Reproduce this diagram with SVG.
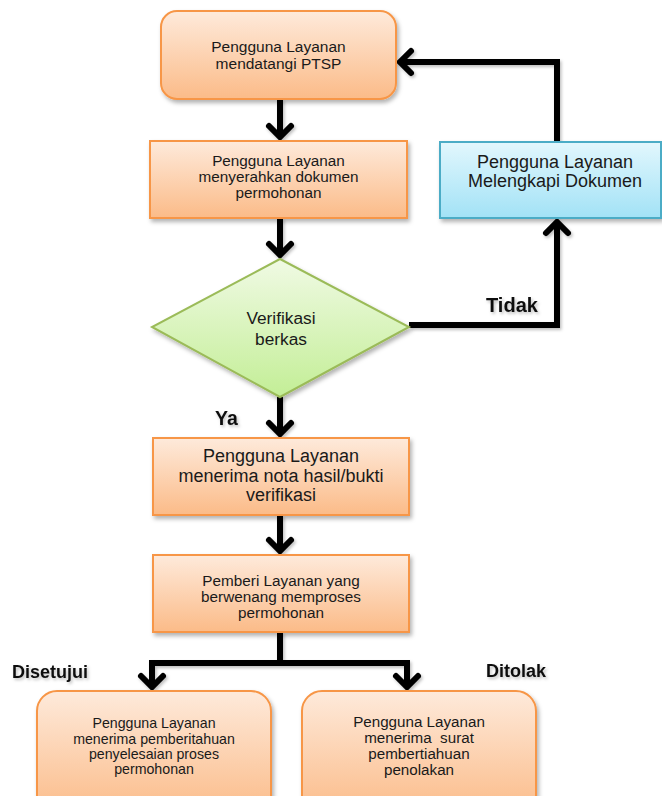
<svg xmlns="http://www.w3.org/2000/svg" width="662" height="796" viewBox="0 0 662 796">
  <defs>
    <linearGradient id="gOrange" x1="0" y1="0" x2="0" y2="1">
      <stop offset="0" stop-color="#feeadb"/>
      <stop offset="1" stop-color="#fbbb88"/>
    </linearGradient>
    <linearGradient id="gBlue" x1="0" y1="0" x2="0" y2="1">
      <stop offset="0" stop-color="#e2f7fd"/>
      <stop offset="1" stop-color="#a2e2f6"/>
    </linearGradient>
    <linearGradient id="gGreen" x1="0" y1="0" x2="0" y2="1">
      <stop offset="0" stop-color="#f0fae4"/>
      <stop offset="1" stop-color="#c3ee96"/>
    </linearGradient>
    <filter id="shadow" x="-10%" y="-10%" width="125%" height="130%">
      <feDropShadow dx="2" dy="3" stdDeviation="2" flood-color="#000" flood-opacity="0.3"/>
    </filter>
    <filter id="lineShadow" x="-20%" y="-20%" width="140%" height="140%">
      <feDropShadow dx="1.5" dy="2" stdDeviation="1.5" flood-color="#000" flood-opacity="0.25"/>
    </filter>
    <marker id="chev" viewBox="-16 -16 32 32" markerWidth="32" markerHeight="32" markerUnits="userSpaceOnUse" refX="0" refY="0" orient="auto" overflow="visible">
      <path d="M-11,-11 L0,0 L-11,11" fill="none" stroke="#000" stroke-width="6" stroke-linecap="round" stroke-linejoin="miter"/>
    </marker>
  </defs>
  <style>
    .orange { fill: url(#gOrange); stroke: #f79646; stroke-width: 2; filter: url(#shadow); }
    .blue { fill: url(#gBlue); stroke: #4bacc6; stroke-width: 2; filter: url(#shadow); }
    .green { fill: url(#gGreen); stroke: #9bbb59; stroke-width: 2; filter: url(#shadow); }
    .t { font-family: "Liberation Sans", Arial, sans-serif; fill: #1a1a1a; text-anchor: middle; }
    .lbl { font-family: "Liberation Sans", Arial, sans-serif; font-weight: bold; fill: #111; }
    .conn { fill: none; stroke: #000; stroke-width: 6; stroke-linejoin: miter; }
  </style>

  <rect width="662" height="796" fill="#ffffff"/>

  <!-- connectors -->
  <g id="connectors" filter="url(#lineShadow)">
    <path class="conn" d="M280,99 V137" marker-end="url(#chev)"/>
    <path class="conn" d="M280,218 V255" marker-end="url(#chev)"/>
    <path class="conn" d="M280,397 V434" marker-end="url(#chev)"/>
    <path class="conn" d="M280,515 V551" marker-end="url(#chev)"/>
    <path class="conn" d="M280,632 V663 H152 V687" marker-end="url(#chev)"/>
    <path class="conn" d="M280,663 H407 V687" marker-end="url(#chev)"/>
    <path class="conn" d="M409,325 H557 V222" marker-end="url(#chev)"/>
    <path class="conn" d="M557,142 V62 H400" marker-end="url(#chev)"/>
    <text class="lbl" x="486" y="312" font-size="20">Tidak</text>
    <text class="lbl" x="215" y="425" font-size="19.5">Ya</text>
    <text class="lbl" x="12" y="678" font-size="18">Disetujui</text>
    <text class="lbl" x="486" y="677" font-size="18">Ditolak</text>
  </g>

  <!-- nodes -->
  <g id="n-datang">
    <rect class="orange" x="161" y="11" width="235" height="88" rx="16"/>
    <text class="t" font-size="15.5"><tspan x="278.5" y="52">Pengguna Layanan</tspan><tspan x="278.5" y="69">mendatangi PTSP</tspan></text>
  </g>

  <g id="n-serah">
    <rect class="orange" x="150" y="141" width="257" height="77"/>
    <text class="t" font-size="15.3"><tspan x="278.5" y="166">Pengguna Layanan</tspan><tspan x="278.5" y="182">menyerahkan dokumen</tspan><tspan x="278.5" y="198">permohonan</tspan></text>
  </g>

  <g id="n-lengkapi">
    <rect class="blue" x="440" y="142" width="221" height="76"/>
    <text class="t" font-size="18"><tspan x="555" y="168">Pengguna Layanan</tspan><tspan x="555" y="187">Melengkapi Dokumen</tspan></text>
  </g>

  <g id="n-verifikasi">
    <polygon class="green" points="280,259 409,327 280,397 152,327"/>
    <text class="t" font-size="17.3"><tspan x="281" y="324">Verifikasi</tspan><tspan x="281" y="345">berkas</tspan></text>
  </g>

  <g id="n-nota">
    <rect class="orange" x="153" y="438" width="256" height="77"/>
    <text class="t" font-size="18"><tspan x="281" y="462">Pengguna Layanan</tspan><tspan x="281" y="481.5">menerima nota hasil/bukti</tspan><tspan x="281" y="501">verifikasi</tspan></text>
  </g>

  <g id="n-proses">
    <rect class="orange" x="153" y="555" width="256" height="77"/>
    <text class="t" font-size="15.3"><tspan x="281" y="586">Pemberi Layanan yang</tspan><tspan x="281" y="602">berwenang memproses</tspan><tspan x="281" y="618">permohonan</tspan></text>
  </g>

  <g id="n-disetujui">
    <rect class="orange" x="37" y="691" width="234" height="125" rx="20"/>
    <text class="t" font-size="14.2"><tspan x="154" y="728">Pengguna Layanan</tspan><tspan x="154" y="743.5">menerima pemberitahuan</tspan><tspan x="154" y="759">penyelesaian proses</tspan><tspan x="154" y="774">permohonan</tspan></text>
  </g>

  <g id="n-ditolak">
    <rect class="orange" x="302" y="691" width="234" height="125" rx="20"/>
    <text class="t" font-size="15.2" xml:space="preserve"><tspan x="419" y="727">Pengguna Layanan</tspan><tspan x="419" y="743">menerima  surat</tspan><tspan x="419" y="759">pembertiahuan</tspan><tspan x="419" y="775">penolakan</tspan></text>
  </g>
</svg>
